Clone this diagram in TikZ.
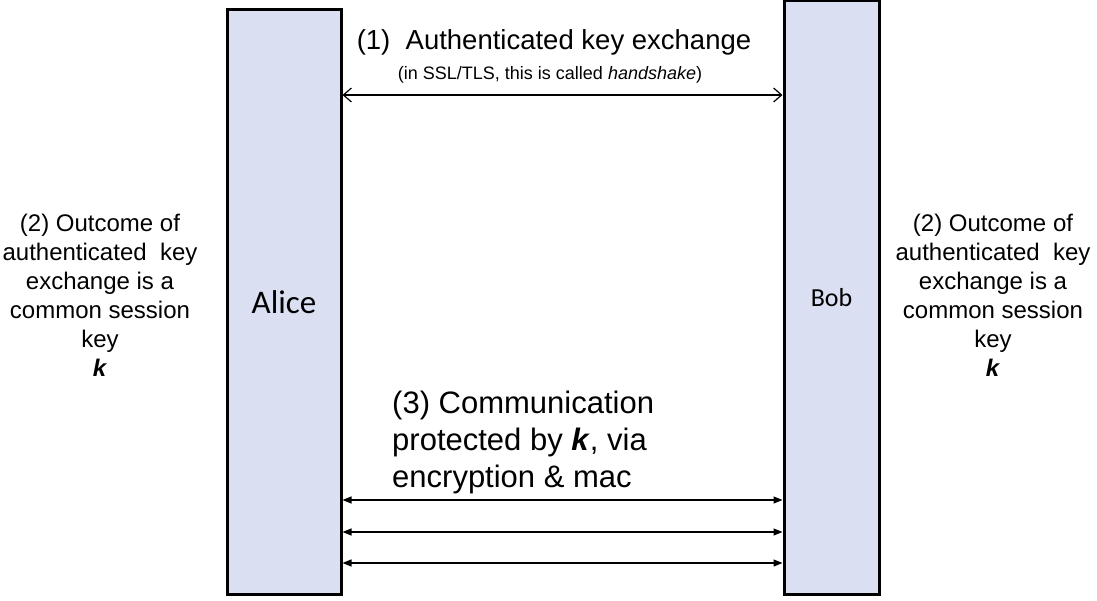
\documentclass[tikz,border=0pt]{standalone}
\usepackage{fontspec}
\setmainfont{Liberation Sans}
\newfontfamily\calibrifont{Carlito}
\usetikzlibrary{arrows.meta}
\definecolor{partyfill}{RGB}{218,224,242}
\tikzset{
  party/.style={draw=black, line width=3pt, fill=partyfill, inner sep=0pt},
  sidetext/.style={align=center, inner sep=0pt, font=\fontsize{24}{29}\selectfont},
  hsarrow/.style={line width=1.2pt, {Straight Barb[length=8pt,width=14pt]}-{Straight Barb[length=8pt,width=14pt]}},
  msgarrow/.style={line width=1.2pt, {Triangle[length=9pt,width=7pt]}-{Triangle[length=9pt,width=7pt]}}
}
\begin{document}
\begin{tikzpicture}[x=1pt,y=-1pt]
\useasboundingbox (0,0) rectangle (1097,601);
\node[party, minimum width=114pt, minimum height=584pt, font=\calibrifont\fontsize{33}{40}\selectfont] (alice) at (284,302) {Alice};
\node[party, minimum width=95pt, minimum height=593pt, font=\calibrifont\fontsize{26}{31}\selectfont] (bob) at (831.5,297.5) {Bob};

\node[inner sep=0pt, font=\fontsize{27.5}{32}\selectfont] (t1) at (554,42) {(1)\ \ Authenticated key exchange};
\node[inner sep=0pt, font=\fontsize{18}{22}\selectfont] (t1b) at (550,75) {(in SSL/TLS, this is called \textit{handshake})};
\draw[hsarrow] (alice.east |- 0,95) -- (bob.west |- 0,95);

\node[sidetext] (outl) at (100,295) {(2) Outcome of\\authenticated\ \ key\\exchange is a\\common session\\key\\\textbf{\textit{k}}};
\node[sidetext] (outr) at (993,295) {(2) Outcome of\\authenticated\ \ key\\exchange is a\\common session\\key\\\textbf{\textit{k}}};

\node[align=left, inner sep=0pt, anchor=west, font=\fontsize{31}{37}\selectfont] (t3) at (392,442) {(3) Communication\\protected by \textbf{\textit{k}}, via\\encryption \& mac};

\draw[msgarrow] (alice.east |- 0,500) -- (bob.west |- 0,500);
\draw[msgarrow] (alice.east |- 0,532) -- (bob.west |- 0,532);
\draw[msgarrow] (alice.east |- 0,563) -- (bob.west |- 0,563);
\end{tikzpicture}
\end{document}
